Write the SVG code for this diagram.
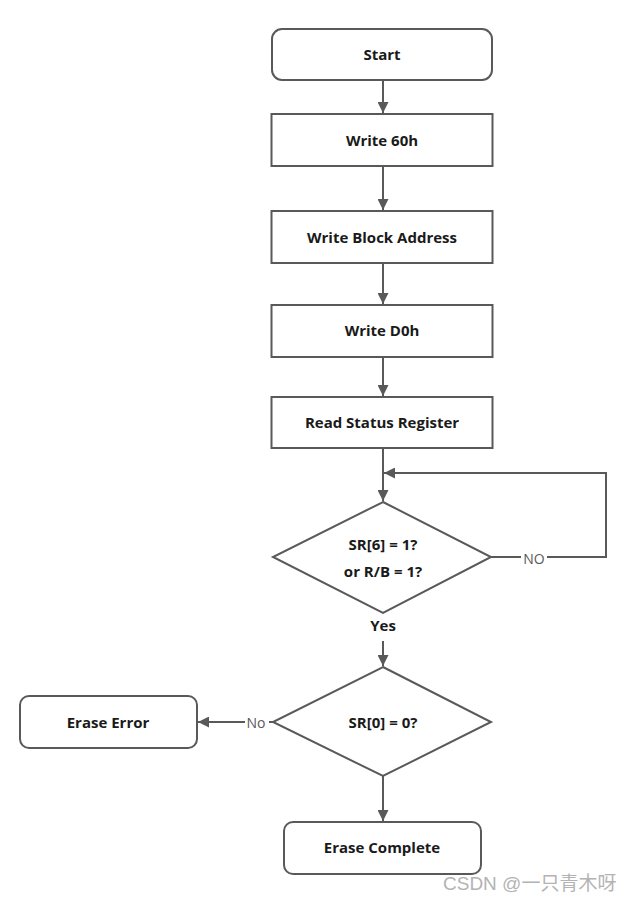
<svg xmlns="http://www.w3.org/2000/svg" width="628" height="901" viewBox="0 0 628 901">
<defs>
<style>
.box{fill:#fff;stroke:#595959;stroke-width:2}
.t{font-family:"Open Sans","Liberation Sans",sans-serif;font-weight:bold;font-size:15px;fill:#1a1a1a;text-anchor:middle;dominant-baseline:central}
.c{fill:none;stroke:#595959;stroke-width:2}
.lbl{font-family:"Open Sans","Liberation Sans",sans-serif;font-size:14px;fill:#595959;text-anchor:middle;dominant-baseline:central}
.wm{font-family:"Liberation Sans","Noto Sans CJK SC",sans-serif;font-size:19px;fill:#b3b3b3}
</style>
<marker id="ah" viewBox="0 0 10 10" refX="10" refY="5" markerWidth="11" markerHeight="11" markerUnits="userSpaceOnUse" orient="auto">
<path d="M0,0 L10,5 L0,10 z" fill="#595959"/>
</marker>
</defs>
<rect width="628" height="901" fill="#fff"/>
<g id="connectors">
<path class="c" d="M383,80 V113" marker-end="url(#ah)"/>
<path class="c" d="M383,166 V210" marker-end="url(#ah)"/>
<path class="c" d="M383,263 V304" marker-end="url(#ah)"/>
<path class="c" d="M383,357 V396" marker-end="url(#ah)"/>
<path class="c" d="M383,448 V501" marker-end="url(#ah)"/>
<path class="c" d="M491,557 H606 V473 H384" marker-end="url(#ah)"/>
<path class="c" d="M383,641 V666" marker-end="url(#ah)"/>
<path class="c" d="M273,722 H198" marker-end="url(#ah)"/>
<path class="c" d="M383,776 V821" marker-end="url(#ah)"/>
<rect x="521" y="549" width="26" height="16" fill="#fff"/>
<text class="lbl" x="534" y="558">NO</text>
<rect x="245" y="714" width="24" height="16" fill="#fff"/>
<text class="lbl" x="256" y="722">No</text>
<text class="t" x="383" y="625">Yes</text>
</g>
<g id="start"><rect class="box" x="272" y="29" width="220" height="51" rx="10"/><text class="t" x="382" y="54">Start</text></g>
<g id="write60"><rect class="box" x="271.5" y="114" width="221" height="52"/><text class="t" x="382" y="140">Write 60h</text></g>
<g id="writeaddr"><rect class="box" x="271.5" y="211" width="221" height="52"/><text class="t" x="382" y="237">Write Block Address</text></g>
<g id="writed0"><rect class="box" x="271.5" y="305" width="221" height="52"/><text class="t" x="382" y="330">Write D0h</text></g>
<g id="readsr"><rect class="box" x="271.5" y="397" width="221" height="51"/><text class="t" x="382" y="422">Read Status Register</text></g>
<g id="check1"><polygon class="box" points="383,502 491,557 383,613 273,557"/><text class="t" x="383" y="544">SR[6] = 1?</text><text class="t" x="383" y="571">or R/B = 1?</text></g>
<g id="check2"><polygon class="box" points="383,667 491,722 383,776 273,722"/><text class="t" x="383" y="722">SR[0] = 0?</text></g>
<g id="error"><rect class="box" x="20" y="696" width="177" height="52" rx="9"/><text class="t" x="108" y="722">Erase Error</text></g>
<g id="complete"><rect class="box" x="284" y="822" width="197" height="52" rx="9"/><text class="t" x="382" y="847">Erase Complete</text></g>
<text class="wm" x="443" y="890">CSDN @一只青木呀</text>
</svg>
